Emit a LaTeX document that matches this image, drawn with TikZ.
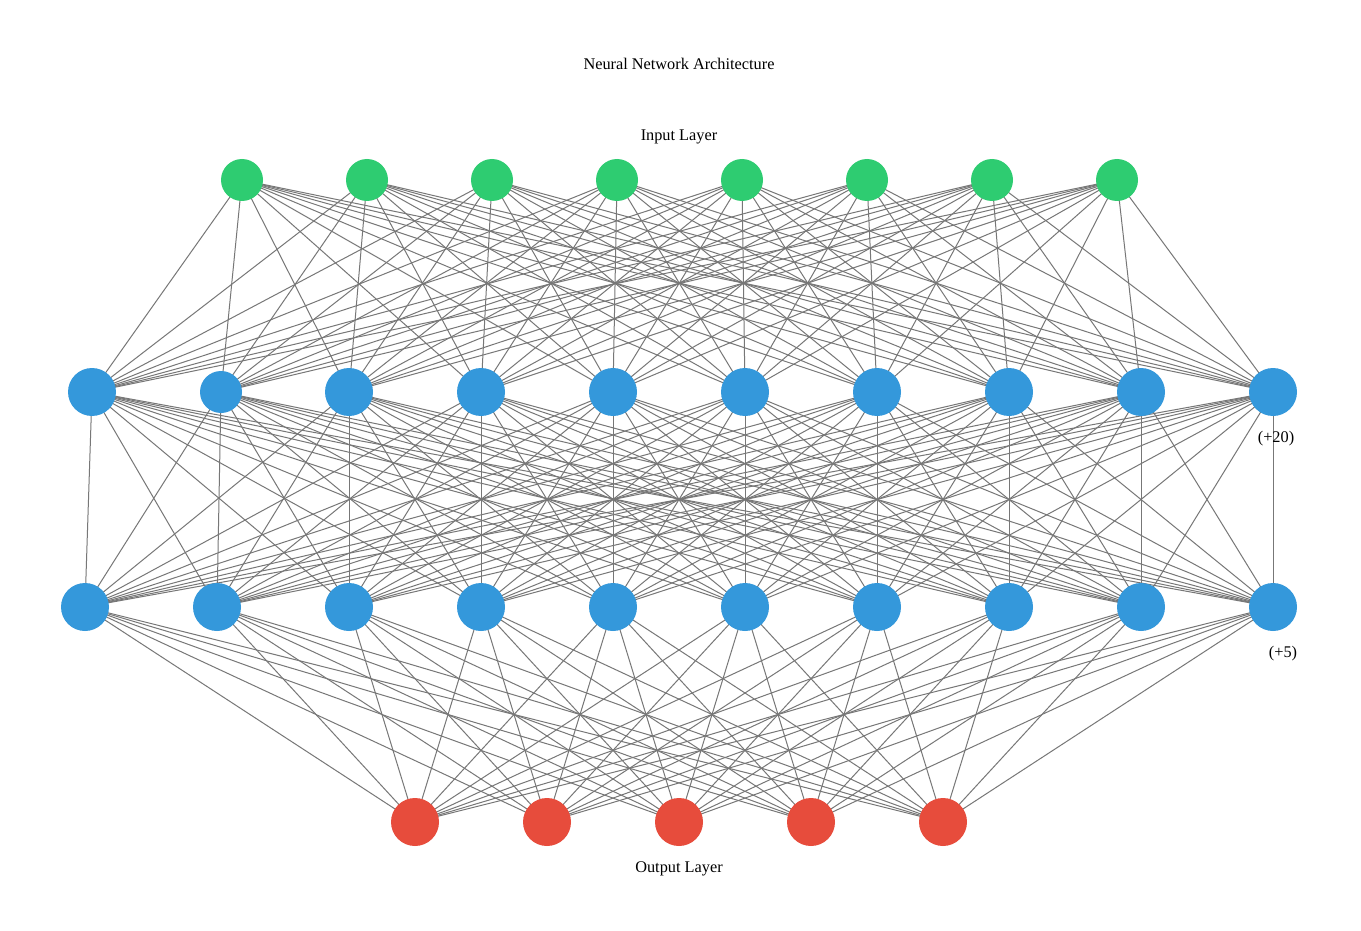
\documentclass[tikz,border=0pt]{standalone}
\usepackage{fontspec}
\setmainfont{Liberation Serif}
\definecolor{ingreen}{HTML}{2ECC71}
\definecolor{hidblue}{HTML}{3498DB}
\definecolor{outred}{HTML}{E74C3C}
\definecolor{edgegray}{HTML}{777777}
\pgfdeclarelayer{bg}
\pgfsetlayers{bg,main}
\begin{document}
\begin{tikzpicture}[x=1pt,y=-1pt,
  neuron/.style={circle,inner sep=0pt,minimum size=#1},
  innode/.style={neuron=42pt,fill=ingreen},
  hidnode/.style={neuron=48pt,fill=hidblue},
  hidsmall/.style={neuron=42pt,fill=hidblue},
  outnode/.style={neuron=48pt,fill=outred},
  conn/.style={draw=edgegray,line width=1pt},
  lbl/.style={font=\fontsize{16.3}{19}\selectfont,inner sep=0pt}]
\useasboundingbox (0,0) rectangle (1361,931);
% input layer
\foreach \x [count=\i] in {242,367,492,617,742,867,992,1117}
  \node[innode] (i\i) at (\x,180) {};
% hidden layer 1
\node[hidnode] (a1) at (92,392) {};
\node[hidsmall] (a2) at (221,392) {};
\foreach \x [count=\i from 3] in {349,481,613,745,877,1009,1141,1273}
  \node[hidnode] (a\i) at (\x,392) {};
% hidden layer 2
\foreach \x [count=\i] in {85,217,349,481,613,745,877,1009,1141,1273}
  \node[hidnode] (b\i) at (\x,607) {};
% output layer
\foreach \x [count=\i] in {415,547,679,811,943}
  \node[outnode] (o\i) at (\x,822) {};
% connections (behind nodes)
\begin{pgfonlayer}{bg}
\fill[white] (0,0) rectangle (1361,931);
\foreach \i in {1,...,8}
  \foreach \j in {1,...,10}
    \draw[conn] (i\i.center) -- (a\j.center);
\foreach \i in {1,...,10}
  \foreach \j in {1,...,10}
    \draw[conn] (a\i.center) -- (b\j.center);
\foreach \i in {1,...,10}
  \foreach \j in {1,...,5}
    \draw[conn] (b\i.center) -- (o\j.center);
\end{pgfonlayer}
% labels
\node[lbl] (title) at (679,63.5) {Neural Network Architecture};
\node[lbl] (inlbl) at (679,137) {Input Layer};
\node[lbl] (outlbl) at (679,869) {Output Layer};
\node[lbl] (more1) at (1276,439) {(+20)};
\node[lbl] (more2) at (1283,654) {(+5)};
\end{tikzpicture}
\end{document}
